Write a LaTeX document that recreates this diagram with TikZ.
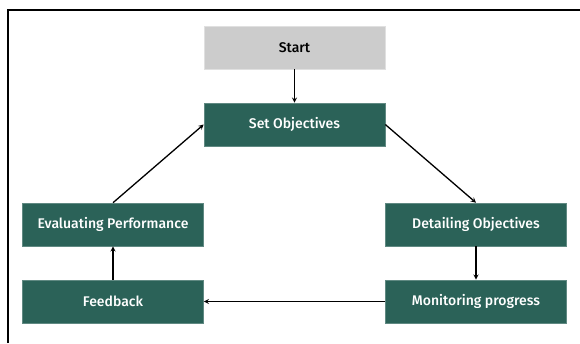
\documentclass[tikz,border=0pt]{standalone}
\usepackage{fontspec}
\setmainfont{Fira Sans}[UprightFont=* Medium]
\usepackage{xcolor}
\definecolor{stagecolor}{RGB}{43, 98, 88}
\definecolor{startcolor}{RGB}{204, 204, 204}
\usetikzlibrary{arrows.meta, calc}

\begin{document}
\begin{tikzpicture}[x=1pt,y=-1pt,
    stagebox/.style={draw=stagecolor!75!white, fill=stagecolor, text=white,
      font=\fontsize{14}{16}\selectfont,
      minimum width=181pt, minimum height=43pt, inner sep=0pt, line width=0.6pt},
    startbox/.style={stagebox, draw=startcolor!60!white, fill=startcolor, text=black}]
  \useasboundingbox (0,0) rectangle (580,343);
  \draw[line width=2pt] (8,343) -- (8,10) -- (580,10);
  \node[startbox] (start) at (294.5,47.5) {Start};
  \node[stagebox] (setobj) at (294.5,124.5) {Set Objectives};
  \node[stagebox] (evalperf) at (113,224.5) {Evaluating Performance};
  \node[stagebox] (feedback) at (113,301.5) {Feedback};
  \node[stagebox] (detailobj) at (476,224.5) {Detailing Objectives};
  \node[stagebox] (monitor) at (476,301.5) {Monitoring progress};
  \path[-stealth, line width=1.3pt]
    (start) edge node {} (setobj)
    (setobj.east) edge node {} (detailobj.north)
    (detailobj) edge node {} (monitor)
    (monitor) edge node {} (feedback)
    (feedback) edge node {} (evalperf)
    (evalperf.north) edge node {} (setobj.west)
    ;
\end{tikzpicture}
\end{document}
